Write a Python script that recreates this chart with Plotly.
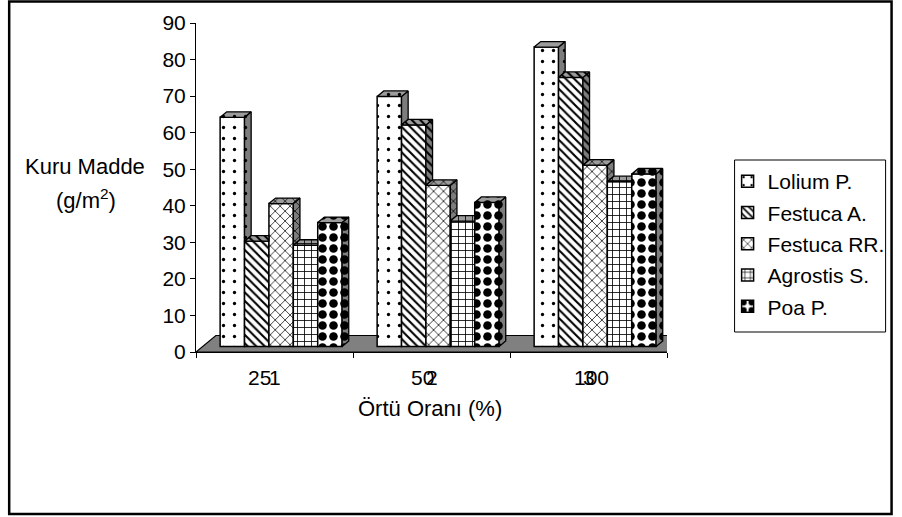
import plotly.graph_objects as go

# ---- data -------------------------------------------------------------
categories = ["25", "50", "100"]
category_index_labels = ["1", "2", "3"]
series_names = ["Lolium P.", "Festuca A.", "Festuca RR.", "Agrostis S.", "Poa P."]

lolium = [62.7, 68.4, 81.9]
festuca_a = [28.8, 60.6, 73.6]
festuca_rr = [39.1, 44.1, 49.6]
agrostis = [27.7, 34.3, 45.1]
poa = [33.9, 39.4, 47.2]
series_values = [lolium, festuca_a, festuca_rr, agrostis, poa]

y_ticks = [0, 10, 20, 30, 40, 50, 60, 70, 80, 90]

# ---- styling ----------------------------------------------------------
FONT = "Liberation Sans, Arial, sans-serif"
FS = 21
FS_TITLE = 22
W, H = 902, 517
ML, MR, MT, MB = 196, 232, 23, 165
PW, PH = W - ML - MR, H - MT - MB

patterns = [
    dict(shape=".", size=11, solidity=0.07),
    dict(shape="\\", size=6, solidity=0.35),
    dict(shape="x", size=7, solidity=0.2),
    dict(shape="+", size=7, solidity=0.22),
    dict(shape=".", size=11, solidity=0.48),
]
SIDE_BG = "#7d7d7d"
TOP_BG = "#9c9c9c"

# 3-D geometry (axis units): floor depth, bars sit in the middle third
BARGAP = 0.223
BAR_W = (1 - BARGAP) / len(series_names)
FLOOR_DX = 20 / (PW / 3.0)        # category units
FLOOR_DY = 16.5 / (PH / 90.0)     # value units
DDX, DDY = FLOOR_DX / 3, FLOOR_DY / 3
BASE = DDY


def px_x(px):
    return (px - ML) / PW


def px_y(py):
    return (H - MB - py) / PH


fig = go.Figure()

# front faces
for name, vals, pat in zip(series_names, series_values, patterns):
    fig.add_trace(go.Bar(
        name=name,
        x=[j + DDX for j in range(len(categories))],
        y=vals,
        base=BASE,
        legendgroup=name,
        marker=dict(
            color="white",
            line=dict(color="black", width=1.5),
            pattern=dict(fgcolor="black", bgcolor="white", fillmode="replace", **pat),
        ),
        hoverinfo="skip",
    ))

# top and side faces, clipped where the next bar hides them
n = len(series_names)
for i, (name, vals, pat) in enumerate(zip(series_names, series_values, patterns)):
    top_x, top_y, side_x, side_y = [], [], [], []
    for j, v in enumerate(vals):
        xc = j + DDX + (i - (n - 1) / 2) * BAR_W
        L, R = xc - BAR_W / 2, xc + BAR_W / 2
        T = BASE + v
        nxt = BASE + series_values[i + 1][j] if i + 1 < n else None
        if nxt is not None and nxt > T:
            tx = [L, R, R, L + DDX, L]
        else:
            tx = [L, R, R + DDX, L + DDX, L]
        ty = [T, T, T + DDY, T + DDY, T]
        top_x += tx + [None]
        top_y += ty + [None]
        lower = BASE if nxt is None else max(BASE, nxt)
        if lower < T:
            side_x += [R, R + DDX, R + DDX, R, R, None]
            side_y += [lower, lower + DDY, T + DDY, T, lower, None]
    for fx, fy, bg in ((side_x, side_y, SIDE_BG), (top_x, top_y, TOP_BG)):
        fig.add_trace(go.Scatter(
            x=fx, y=fy, mode="lines", fill="toself",
            fillcolor=bg,
            fillpattern=dict(fgcolor="black", bgcolor=bg, fillmode="replace", **pat),
            line=dict(color="black", width=1.3),
            showlegend=False, hoverinfo="skip", legendgroup=name,
        ))

# gray floor
x0, x1 = -0.5, len(categories) - 0.5
fig.add_shape(
    type="path", layer="below", xref="x", yref="y",
    path=f"M{x0},0 L{x1},0 L{x1 + FLOOR_DX},{FLOOR_DY} L{x0 + FLOOR_DX},{FLOOR_DY} Z",
    fillcolor="#808080", line=dict(color="black", width=1.2),
)

# chart frame and legend frame
fig.add_shape(
    type="rect", xref="paper", yref="paper",
    x0=px_x(8), x1=px_x(896), y0=px_y(514), y1=px_y(1.5),
    line=dict(color="black", width=2.5), fillcolor="rgba(0,0,0,0)", layer="below",
)
fig.add_shape(
    type="rect", xref="paper", yref="paper",
    x0=px_x(738), x1=px_x(890), y0=px_y(332), y1=px_y(160),
    line=dict(color="black", width=1), fillcolor="rgba(0,0,0,0)", layer="below",
)

# category labels
label_shift = [-15, -9, 3]
for j, (lab, idx) in enumerate(zip(categories, category_index_labels)):
    fig.add_annotation(x=j, y=0, xref="x", yref="y", text=lab, showarrow=False,
                       xshift=label_shift[j], yshift=-25,
                       xanchor="center", yanchor="middle",
                       font=dict(family=FONT, size=FS, color="black"))
    fig.add_annotation(x=j, y=0, xref="x", yref="y", text=idx, showarrow=False,
                       yshift=-25, xanchor="center", yanchor="middle",
                       font=dict(family=FONT, size=FS, color="black"))

# axis titles
title_font = dict(family=FONT, size=FS_TITLE, color="black")
fig.add_annotation(x=px_x(431), y=px_y(408), xref="paper", yref="paper",
                   text="Örtü Oranı (%)", showarrow=False,
                   xanchor="center", yanchor="middle", font=title_font)
fig.add_annotation(x=px_x(84), y=px_y(166), xref="paper", yref="paper",
                   text="Kuru Madde", showarrow=False,
                   xanchor="center", yanchor="middle", font=title_font)
fig.add_annotation(x=px_x(85), y=px_y(199), xref="paper", yref="paper",
                   text="(g/m<sup>2</sup>)", showarrow=False,
                   xanchor="center", yanchor="middle", font=title_font)

fig.update_layout(
    width=W, height=H,
    margin=dict(l=ML, r=MR, t=MT, b=MB),
    paper_bgcolor="white", plot_bgcolor="rgba(0,0,0,0)",
    barmode="group", bargap=BARGAP, bargroupgap=0,
    font=dict(family=FONT, size=FS, color="black"),
    showlegend=True,
    legend=dict(
        x=px_x(731), y=px_y(161), xanchor="left", yanchor="top",
        borderwidth=0, bgcolor="rgba(0,0,0,0)",
        font=dict(family=FONT, size=FS, color="black"),
        tracegroupgap=1, itemclick=False, itemdoubleclick=False,
    ),
    xaxis=dict(
        range=[x0, x1], showgrid=False, zeroline=False,
        showline=True, linecolor="black", linewidth=1.2,
        tickmode="array", tickvals=[-0.5, 0.5, 1.5, 2.5],
        showticklabels=False, ticks="outside", ticklen=5, tickcolor="black",
    ),
    yaxis=dict(
        range=[0, 90], showgrid=False, zeroline=False,
        showline=True, linecolor="black", linewidth=1,
        tickmode="array", tickvals=y_ticks,
        ticks="outside", ticklen=5, tickcolor="black",
        tickfont=dict(family=FONT, size=FS, color="black"),
    ),
)

fig.write_html("out.html")
